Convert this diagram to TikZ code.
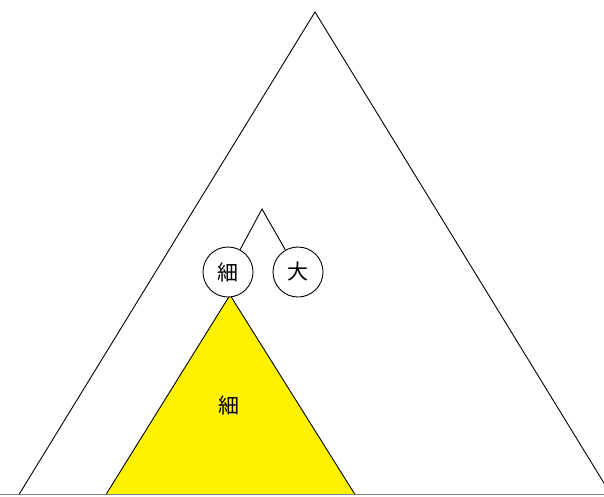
\documentclass[tikz,border=0pt]{standalone}
\usepackage{fontspec}
\newfontfamily\cjk{Noto Sans CJK JP}
\tikzset{
  leaf/.style={circle,draw=black,line width=0.9pt,minimum size=50pt,inner sep=0pt,font=\cjk\fontsize{21}{21}\selectfont},
  edge/.style={draw=black,line width=0.9pt},
  lbl/.style={font=\cjk\fontsize{21}{21}\selectfont,inner sep=0pt}
}
\begin{document}
\begin{tikzpicture}[x=1pt,y=-1pt]
\useasboundingbox (0,0) rectangle (604,496);
\fill[white] (0,0) rectangle (604,496);
% big triangle
\coordinate (bigtop) at (315,12);
\coordinate (bigL) at (19,494.5);
\coordinate (bigR) at (611,494.5);
\draw[edge] (bigL) -- (bigtop) -- (bigR);
% yellow triangle
\coordinate (ytop) at (230,295);
\coordinate (yL) at (106,494.5);
\coordinate (yR) at (355,494.5);
\fill[yellow] (yL) -- (ytop) -- (yR) -- cycle;
\draw[edge] (yL) -- (ytop) -- (yR);
\node[lbl] (ylbl) at (229,405) {細};
% small tree
\coordinate (stop) at (262,209);
\node[leaf,fill=white] (c1) at (228,272) {細};
\node[leaf,fill=white] (c2) at (298,272) {大};
\draw[edge] (c1) -- (stop) -- (c2);
% base line
\coordinate (baseL) at (0,494.5);
\coordinate (baseR) at (604,494.5);
\draw[gray,line width=1.5pt] (baseL) -- (baseR);
\end{tikzpicture}
\end{document}
